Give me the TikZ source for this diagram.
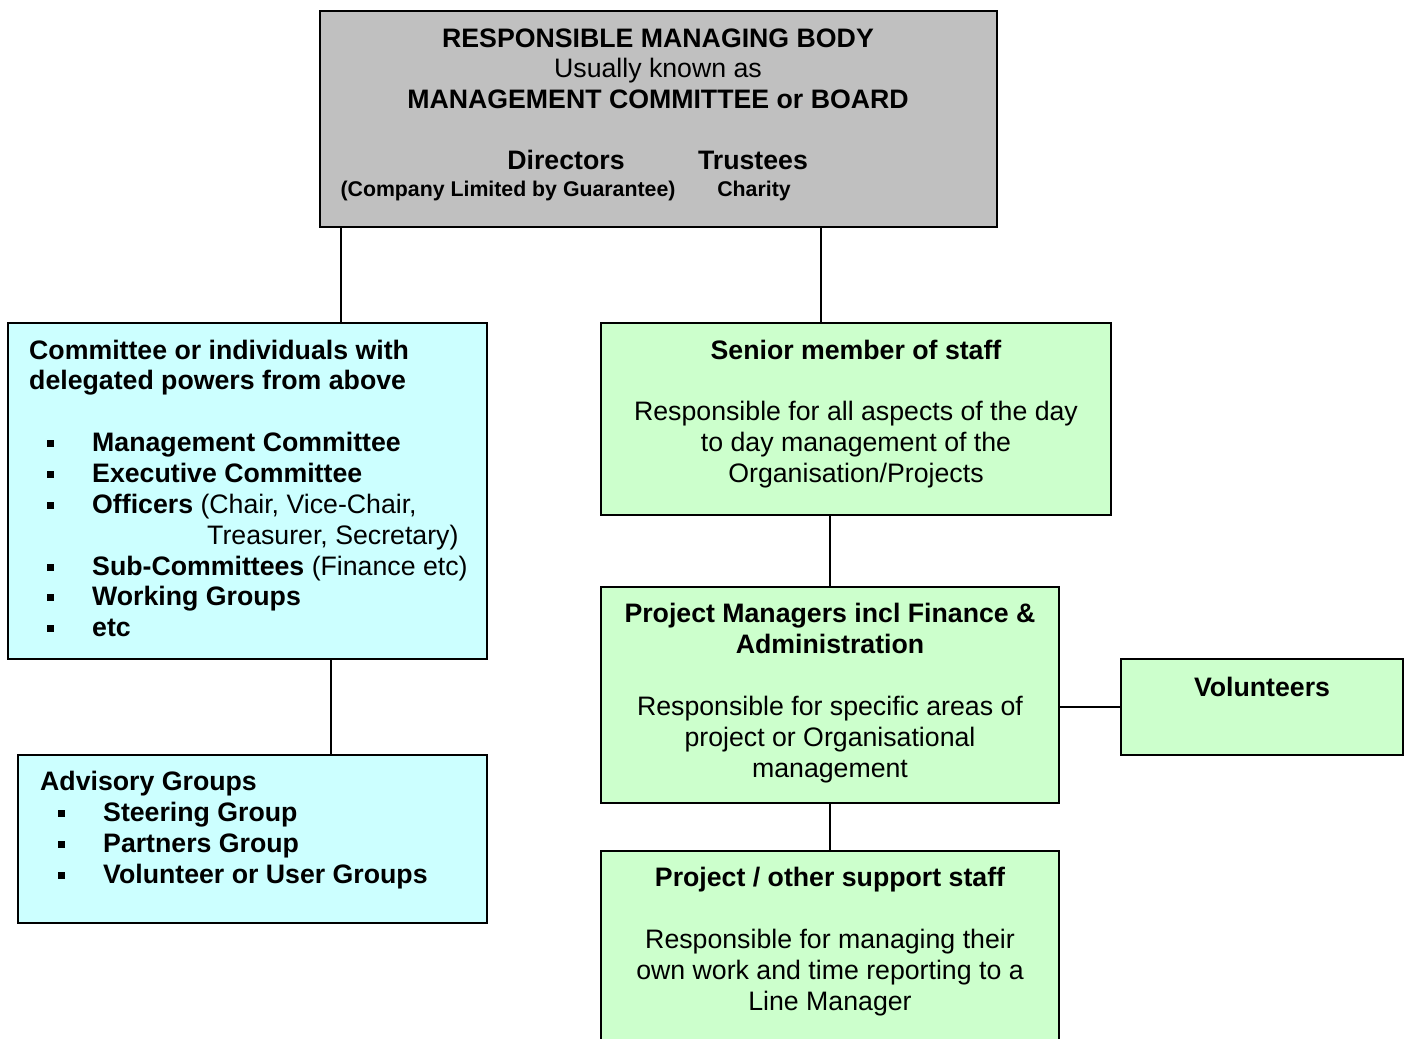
\documentclass[tikz,border=0pt]{standalone}
\usepackage{fontspec}
\setmainfont{Liberation Sans}
\definecolor{boardgray}{HTML}{C0C0C0}
\definecolor{cyanbox}{HTML}{CCFFFF}
\definecolor{greenbox}{HTML}{CCFFCC}
\begin{document}
\begin{tikzpicture}[x=1pt,y=-1pt,
  box/.style={draw=black, line width=1.6pt, rectangle, inner sep=0pt, outer sep=0pt, anchor=north west},
  txt/.style={inner sep=0pt, font=\fontsize{26.7}{30.6}\selectfont, anchor=base},
  txtl/.style={txt, anchor=base west},
  smalltxt/.style={inner sep=0pt, font=\fontsize{21.3}{25}\selectfont\bfseries, anchor=base},
  bul/.style={fill=black, rectangle, inner sep=0pt, minimum size=7pt},
  conn/.style={draw=black, line width=1.6pt}]
\useasboundingbox (0,0) rectangle (1409,1039);
\clip (0,0) rectangle (1409,1039);
\fill[white] (0,0) rectangle (1409,1039);

% boxes
\node[box, fill=boardgray, minimum width=677pt, minimum height=216pt] (board) at (320,11) {};
\node[box, fill=cyanbox, minimum width=479pt, minimum height=336pt] (deleg) at (8,323) {};
\node[box, fill=cyanbox, minimum width=469pt, minimum height=168pt] (advis) at (18,755) {};
\node[box, fill=greenbox, minimum width=510pt, minimum height=192pt] (senior) at (601,323) {};
\node[box, fill=greenbox, minimum width=458pt, minimum height=216pt] (pm) at (601,587) {};
\node[box, fill=greenbox, minimum width=282pt, minimum height=96pt] (vol) at (1121,659) {};
\node[box, fill=greenbox, minimum width=458pt, minimum height=230pt] (staff) at (601,851) {};

% connectors
\coordinate (cA) at (341,0);
\coordinate (cB) at (821,0);
\coordinate (cC) at (331,0);
\draw[conn] (board.south -| cA) -- (deleg.north -| cA);
\draw[conn] (board.south -| cB) -- (senior.north -| cB);
\draw[conn] (deleg.south -| cC) -- (advis.north -| cC);
\draw[conn] (senior.south -| pm.north) -- (pm.north);
\draw[conn] (pm.south) -- (staff.north);
\draw[conn] (pm.east |- vol.west) -- (vol.west);

% board text
\node[txt] (b1) at (658,47) {\bfseries RESPONSIBLE MANAGING BODY};
\node[txt] (b2) at (658,77.5) {Usually known as};
\node[txt] (b3) at (658,108) {\bfseries MANAGEMENT COMMITTEE or BOARD};
\node[txt] (b4) at (566,169) {\bfseries Directors};
\node[txt] (b5) at (753,169) {\bfseries Trustees};
\node[smalltxt] (b6) at (508,196) {(Company Limited by Guarantee)};
\node[smalltxt] (b7) at (754,196) {Charity};

% delegated box
\node[txtl] (d1) at (29,359) {\bfseries Committee or individuals with};
\node[txtl] (d2) at (29,389.8) {\bfseries delegated powers from above};
\node[bul] (db1) at (50,443.4) {};
\node[txtl] (d3) at (92,451.4) {\bfseries Management Committee};
\node[bul] (db2) at (50,474.3) {};
\node[txtl] (d4) at (92,482.3) {\bfseries Executive Committee};
\node[bul] (db3) at (50,505.2) {};
\node[txtl] (d5) at (92,513.2) {\textbf{Officers} (Chair, Vice-Chair,};
\node[txtl] (d6) at (207,544.1) {Treasurer, Secretary)};
\node[bul] (db4) at (50,567) {};
\node[txtl] (d7) at (92,575) {\textbf{Sub-Committees} (Finance etc)};
\node[bul] (db5) at (50,597.9) {};
\node[txtl] (d8) at (92,605.9) {\bfseries Working Groups};
\node[bul] (db6) at (50,628.8) {};
\node[txtl] (d9) at (92,636.8) {\bfseries etc};

% advisory box
\node[txtl] (a1) at (40,790) {\bfseries Advisory Groups};
\node[bul] (ab1) at (61,813) {};
\node[txtl] (a2) at (103,821) {\bfseries Steering Group};
\node[bul] (ab2) at (61,844.3) {};
\node[txtl] (a3) at (103,852.3) {\bfseries Partners Group};
\node[bul] (ab3) at (61,875.6) {};
\node[txtl] (a4) at (103,883.6) {\bfseries Volunteer or User Groups};

% senior box
\node[txt] (s1) at (856,359) {\bfseries Senior member of staff};
\node[txt] (s2) at (856,420.5) {Responsible for all aspects of the day};
\node[txt] (s3) at (856,451.5) {to day management of the};
\node[txt] (s4) at (856,482.5) {Organisation/Projects};

% project managers box
\node[txt] (p1) at (830,622.5) {\bfseries Project Managers incl Finance \&};
\node[txt] (p2) at (830,653.3) {\bfseries Administration};
\node[txt] (p3) at (830,715.2) {Responsible for specific areas of};
\node[txt] (p4) at (830,746.2) {project or Organisational};
\node[txt] (p5) at (830,777.2) {management};

% volunteers
\node[txt] (v1) at (1262,696) {\bfseries Volunteers};

% support staff box
\node[txt] (st1) at (830,886) {\bfseries Project / other support staff};
\node[txt] (st2) at (830,948) {Responsible for managing their};
\node[txt] (st3) at (830,979) {own work and time reporting to a};
\node[txt] (st4) at (830,1010) {Line Manager};
\end{tikzpicture}
\end{document}
